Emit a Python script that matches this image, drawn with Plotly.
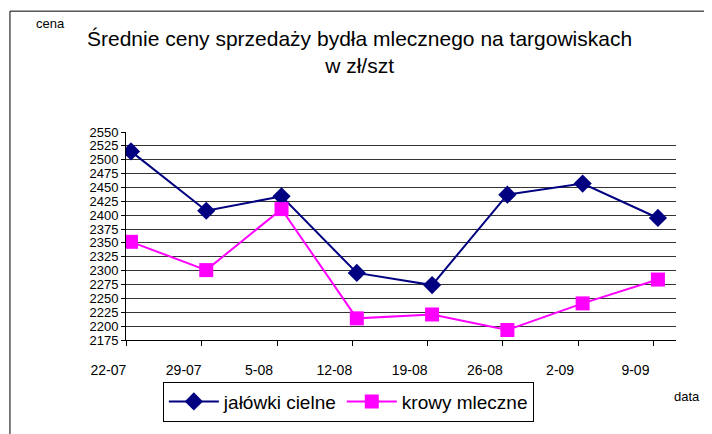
import plotly.graph_objects as go

NAVY = "#000080"
MAGENTA = "#FF00FF"
FONT = "Liberation Sans, Arial, sans-serif"

dates = ["22-07", "29-07", "5-08", "12-08", "19-08", "26-08", "2-09", "9-09"]
jalowki = [2515, 2408, 2434, 2296, 2274, 2437, 2457, 2395]
krowy = [2352, 2301, 2411, 2214, 2221, 2193, 2241, 2284]

idx = list(range(len(dates)))

fig = go.Figure()
fig.add_trace(go.Scatter(x=idx, y=jalowki, name="jałówki cielne", mode="lines+markers",
                         line=dict(color=NAVY, width=2),
                         marker=dict(symbol="diamond", size=14, color=NAVY)))
fig.add_trace(go.Scatter(x=idx, y=krowy, name="krowy mleczne", mode="lines+markers",
                         line=dict(color=MAGENTA, width=2),
                         marker=dict(symbol="square", size=14, color=MAGENTA)))

# page body has an 8px margin, so the figure is sized to fit inside the window
fig.update_layout(
    width=704, height=426,
    margin=dict(l=118, r=36, t=124, b=92),
    paper_bgcolor="white", plot_bgcolor="white",
    font=dict(family=FONT, color="black", size=14),
    showlegend=True,
    legend=dict(orientation="h", x=0.067, y=-0.2, xanchor="left", yanchor="top",
                bordercolor="black", borderwidth=1, font=dict(size=19),
                itemwidth=50, tracegroupgap=0),
    xaxis=dict(range=[-0.066, 7.24], tickvals=[i - 0.06 for i in idx], ticktext=dates,
               ticks="outside", ticklen=5, tickcolor="black", ticklabelshift=-18,
               ticklabelstandoff=12,
               showline=True, linecolor="black", linewidth=1, showgrid=False,
               zeroline=False, tickfont=dict(size=14)),
    yaxis=dict(range=[2175, 2550], dtick=25, tick0=2175, ticks="outside", ticklen=4,
               tickcolor="black", showline=True, linecolor="black", linewidth=1,
               showgrid=True, gridcolor="#333333", gridwidth=1, zeroline=False,
               tickfont=dict(size=13)),
    shapes=[
        dict(type="line", xref="paper", yref="paper", x0=-0.211, x1=-0.211, y0=1.581, y1=-0.6,
             line=dict(color="black", width=1)),
        dict(type="line", xref="paper", yref="paper", x0=-0.211, x1=1.2, y0=1.581, y1=1.581,
             line=dict(color="black", width=1)),
    ],
    annotations=[
        dict(text="Średnie ceny sprzedaży bydła mlecznego na targowiskach<br>w zł/szt",
             xref="paper", yref="paper", x=0.425, y=1.384, xanchor="center", yanchor="middle",
             showarrow=False, font=dict(size=21), align="center"),
        dict(text="cena", xref="paper", yref="paper", x=-0.138, y=1.52, xanchor="center",
             yanchor="middle", showarrow=False, font=dict(size=13)),
        dict(text="data", xref="paper", yref="paper", x=0.993, y=-0.27, xanchor="left",
             yanchor="middle", showarrow=False, font=dict(size=13)),
    ],
)

fig.write_html("out.html")
